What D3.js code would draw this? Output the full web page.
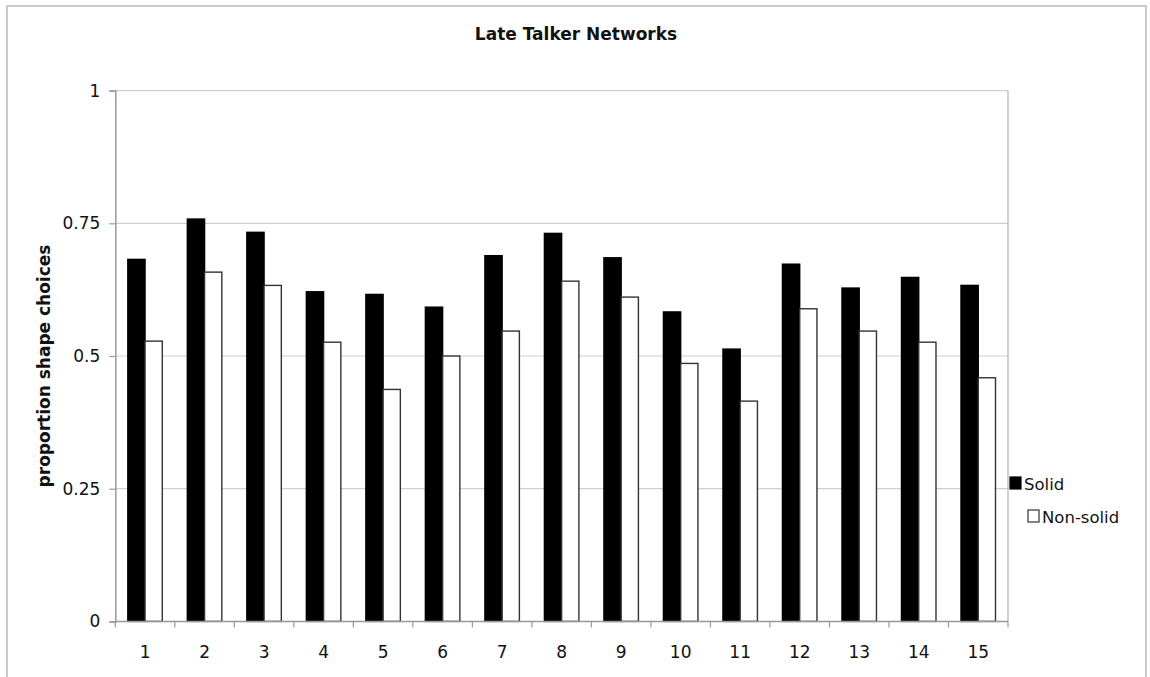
<!DOCTYPE html>
<html>
<head>
<meta charset="utf-8">
<script src="https://cdn.jsdelivr.net/npm/d3@7"></script>
<style>
  html, body { margin: 0; padding: 0; background: #fff; }
  svg { display: block; }
  text { font-family: "DejaVu Sans", Verdana, sans-serif; fill: #111; }
</style>
</head>
<body>
<svg id="chart" width="1150" height="677"></svg>
<script>
// Proportion of shape choices per network
const categories = ["1","2","3","4","5","6","7","8","9","10","11","12","13","14","15"];
const seriesNames = ["Solid", "Non-solid"];
const solid    = [0.682, 0.758, 0.733, 0.621, 0.616, 0.592, 0.689, 0.731, 0.685, 0.583, 0.513, 0.673, 0.628, 0.648, 0.633];
const nonSolid = [0.528, 0.658, 0.633, 0.526, 0.437, 0.500, 0.547, 0.641, 0.611, 0.486, 0.415, 0.589, 0.547, 0.526, 0.459];
const yTicks = [0, 0.25, 0.5, 0.75, 1];
const yTickLabels = ["0", "0.25", "0.5", "0.75", "1"];

const rows = categories.map((c, i) => ({ cat: c, values: [solid[i], nonSolid[i]] }));

const svg = d3.select("#chart");
const plot = { left: 115.3, right: 1008, top: 90.6, bottom: 621.4 };

// outer chart frame
svg.append("rect")
  .attr("x", 7).attr("y", 6).attr("width", 1139).attr("height", 700)
  .attr("fill", "none").attr("stroke", "#b8b8b8").attr("stroke-width", 1.5);

const x0 = d3.scaleBand().domain(categories).range([plot.left, plot.right]).padding(0);
const x1 = d3.scaleBand().domain(seriesNames).range([0, x0.bandwidth()])
  .paddingInner(0).paddingOuter(0.725);
const y = d3.scaleLinear().domain([0, 1]).range([plot.bottom, plot.top]);

// horizontal gridlines
svg.append("g").selectAll("line").data(yTicks.filter(d => d > 0)).join("line")
  .attr("x1", plot.left).attr("x2", plot.right)
  .attr("y1", d => y(d)).attr("y2", d => y(d))
  .attr("stroke", "#cfcfcf").attr("stroke-width", 1.2);

// right edge of plot area
svg.append("line")
  .attr("x1", plot.right).attr("x2", plot.right)
  .attr("y1", plot.top).attr("y2", plot.bottom)
  .attr("stroke", "#b0b0b0").attr("stroke-width", 1.2);

// bars
const fills = ["#000", "#fff"];
const groups = svg.append("g").selectAll("g").data(rows).join("g")
  .attr("transform", d => `translate(${x0(d.cat)},0)`);
groups.selectAll("rect")
  .data(d => d.values.map((v, i) => ({ key: seriesNames[i], v, i })))
  .join("rect")
  .attr("x", d => x1(d.key))
  .attr("width", x1.bandwidth())
  .attr("y", d => y(d.v))
  .attr("height", d => y(0) - y(d.v))
  .attr("fill", d => fills[d.i])
  .attr("stroke", d => d.i === 0 ? "#000" : "#333")
  .attr("stroke-width", 1.4);

// y axis
const yAxis = d3.axisLeft(y).tickValues(yTicks)
  .tickFormat((d, i) => yTickLabels[i]).tickSize(6).tickPadding(9);
const gy = svg.append("g").attr("transform", `translate(${plot.left},0)`).call(yAxis);
gy.select(".domain").attr("stroke", "#999").attr("stroke-width", 1.5);
gy.selectAll(".tick line").attr("stroke", "#999").attr("stroke-width", 1.2);
gy.selectAll(".tick text").attr("font-size", 17).attr("fill", "#111")
  .attr("font-family", "DejaVu Sans, Verdana, sans-serif");

// x axis: labels centred on categories, ticks on boundaries
svg.append("line")
  .attr("x1", plot.left).attr("x2", plot.right)
  .attr("y1", plot.bottom).attr("y2", plot.bottom)
  .attr("stroke", "#999").attr("stroke-width", 1.5);
const boundaries = categories.map(c => x0(c)).concat([plot.right]);
svg.append("g").selectAll("line").data(boundaries).join("line")
  .attr("x1", d => d).attr("x2", d => d)
  .attr("y1", plot.bottom).attr("y2", plot.bottom + 6)
  .attr("stroke", "#999").attr("stroke-width", 1.2);
svg.append("g").selectAll("text").data(categories).join("text")
  .attr("x", d => x0(d) + x0.bandwidth() / 2)
  .attr("y", 658)
  .attr("text-anchor", "middle")
  .attr("font-size", 17)
  .text(d => d);

// title
svg.append("text")
  .attr("x", 576).attr("y", 40)
  .attr("text-anchor", "middle")
  .attr("font-size", 17).attr("font-weight", "bold")
  .text("Late Talker Networks");

// y axis title
svg.append("text")
  .attr("transform", `translate(44,${(plot.top + plot.bottom) / 2 + 10}) rotate(-90)`)
  .attr("text-anchor", "middle")
  .attr("dy", "0.35em")
  .attr("font-size", 17).attr("font-weight", "bold")
  .text("proportion shape choices");

// legend
const legend = svg.append("g").attr("transform", "translate(1010,477)");
const items = legend.selectAll("g").data(seriesNames).join("g")
  .attr("transform", (d, i) => `translate(${i * 18},${i * 33})`);
items.append("rect")
  .attr("x", 0).attr("y", 0).attr("width", 11).attr("height", 12)
  .attr("fill", (d, i) => fills[i])
  .attr("stroke", (d, i) => i === 0 ? "#000" : "#333").attr("stroke-width", 1.2);
items.append("text")
  .attr("x", 14).attr("y", 12.5)
  .attr("font-size", 16.5)
  .text(d => d);
</script>
</body>
</html>
